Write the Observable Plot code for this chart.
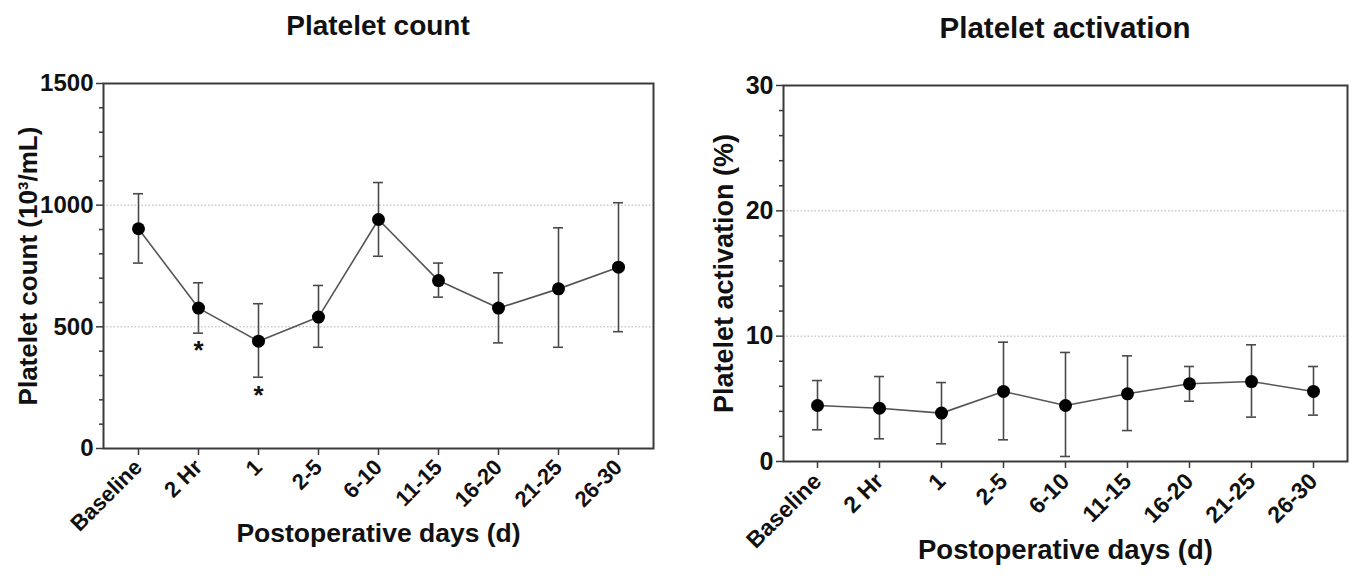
<!DOCTYPE html>
<html><head><meta charset="utf-8">
<script src="https://cdn.jsdelivr.net/npm/d3@7"></script>
<script src="https://cdn.jsdelivr.net/npm/@observablehq/plot@0.6"></script>
<style>
body{margin:0;background:#fff;font-family:"Liberation Sans",Arial,sans-serif;}
#wrap{display:flex;width:1355px;height:576px;overflow:hidden;}
.panel{position:relative;}
.title{font-weight:bold;text-align:center;height:60px;color:#111;box-sizing:border-box;}
</style></head><body><div id="wrap"><div class="panel" id="p1"></div><div class="panel" id="p2"></div></div>
<script>
// Categories (x axis)
const categories = ["Baseline", "2 Hr", "1", "2-5", "6-10", "11-15", "16-20", "21-25", "26-30"];

// Platelet count (10^3/mL): mean and error bar ends
const countMean  = [903, 577, 441, 540, 941, 690, 577, 656, 745];
const countUpper = [1047, 681, 595, 670, 1093, 762, 722, 907, 1010];
const countLower = [762, 474, 293, 416, 790, 622, 434, 416, 480];
const countSignificant = ["2 Hr", "1"];

// Platelet activation (%): mean and error bar ends
const actMean  = [4.47, 4.25, 3.86, 5.59, 4.47, 5.40, 6.20, 6.38, 5.59];
const actUpper = [6.46, 6.78, 6.30, 9.52, 8.70, 8.43, 7.58, 9.31, 7.58];
const actLower = [2.53, 1.81, 1.41, 1.73, 0.40, 2.47, 4.81, 3.54, 3.70];

// Tick values
const countTicks = [0, 500, 1000, 1500];
const countMinorTicks = [100, 200, 300, 400, 600, 700, 800, 900, 1100, 1200, 1300, 1400];
const countGrid = [500, 1000];
const actTicks = [0, 10, 20, 30];
const actMinorTicks = [2, 4, 6, 8, 12, 14, 16, 18, 22, 24, 26, 28];
const actGrid = [10, 20];

// Texts
const countTitle = "Platelet count";
const countYLabel = "Platelet count (10³/mL)";
const actTitle = "Platelet activation";
const actYLabel = "Platelet activation (%)";
const xLabel = "Postoperative days (d)";

function rows(mean, lo, hi) {
  return categories.map((c, i) => ({cat: c, mean: mean[i], lo: lo[i], hi: hi[i]}));
}

const FONT = "'Liberation Sans', Arial, sans-serif";
const AXIS = "#3a3a3a";
const BAR = "#4a4a4a";

function panel(el, o) {
  const title = document.createElement("div");
  title.className = "title";
  title.style.width = o.width + "px";
  title.style.paddingLeft = o.marginLeft + "px";
  title.style.paddingRight = o.marginRight + "px";
  title.style.lineHeight = o.titleLine + "px";
  title.style.fontSize = o.fs.title + "px";
  title.textContent = o.title;
  el.appendChild(title);
  const data = o.data;
  const sig = data.filter(d => o.sig.includes(d.cat));
  const chart = Plot.plot({
    width: o.width,
    height: 516,
    marginTop: o.marginTop,
    marginBottom: o.marginBottom,
    marginLeft: o.marginLeft,
    marginRight: o.marginRight,
    style: {fontFamily: FONT, background: "white", color: "#111", overflow: "visible"},
    x: {type: "band", domain: categories, paddingInner: o.pi, paddingOuter: o.po},
    y: {domain: o.yDomain},
    marks: [
      Plot.ruleY(o.grid, {stroke: "#b0b0b0", strokeWidth: 1, strokeDasharray: "1.5,2"}),
      Plot.axisY(o.minor, {tickSize: 4, tickFormat: () => "", stroke: AXIS, strokeWidth: 1.5, label: null}),
      Plot.axisY(o.ticks, {tickSize: 7, tickPadding: 3, tickFormat: d => String(d), fontSize: o.fs.ytick, fontWeight: "bold", fill: "#111", stroke: AXIS, strokeWidth: 1.5, label: null}),
      Plot.axisX({tickSize: 7, tickPadding: o.xTickPad, tickRotate: -45, fontSize: o.fs.xtick, fontWeight: "bold", fill: "#111", stroke: AXIS, strokeWidth: 1.5, label: null}),
      Plot.frame({stroke: AXIS, strokeWidth: 2}),
      Plot.ruleX(data, {x: "cat", y1: "lo", y2: "hi", stroke: BAR, strokeWidth: 1.6}),
      Plot.tickY(data, {x: "cat", y: "hi", stroke: BAR, strokeWidth: 1.6}),
      Plot.tickY(data, {x: "cat", y: "lo", stroke: BAR, strokeWidth: 1.6}),
      Plot.line(data, {x: "cat", y: "mean", stroke: "#555", strokeWidth: 1.6}),
      Plot.dot(data, {x: "cat", y: "mean", r: 6.5, fill: "#000", stroke: null}),
      Plot.text(sig, {x: "cat", y: "lo", text: () => "*", dy: 18, fontSize: 26, fontWeight: "bold", fill: "#111"}),
      Plot.text([o.yLabel], {frameAnchor: "left", textAnchor: "middle", rotate: -90, dx: -o.yLabelOffset, fontSize: o.fs.ylabel, fontWeight: "bold", fill: "#111"}),
      Plot.text([xLabel], {frameAnchor: "bottom", textAnchor: "middle", dy: o.xLabelOffset, fontSize: o.fs.xlabel, fontWeight: "bold", fill: "#111"})
    ]
  });
  el.appendChild(chart);
}

panel(document.getElementById("p1"), {
  title: countTitle, yLabel: countYLabel, titleLine: 52,
  data: rows(countMean, countLower, countUpper), sig: countSignificant,
  width: 690, marginTop: 23, marginBottom: 128, marginLeft: 103, marginRight: 37,
  pi: 0.835, po: 0.444, yDomain: [0, 1500],
  ticks: countTicks, minor: countMinorTicks, grid: countGrid,
  yLabelOffset: 75, xLabelOffset: 93, xTickPad: 8,
  fs: {title: 28, ytick: 24, xtick: 22, ylabel: 26, xlabel: 26.5}
});
panel(document.getElementById("p2"), {
  title: actTitle, yLabel: actYLabel, titleLine: 56,
  data: rows(actMean, actLower, actUpper), sig: [],
  width: 665, marginTop: 25, marginBottom: 115, marginLeft: 93, marginRight: 8,
  pi: 0.841, po: 0.397, yDomain: [0, 30],
  ticks: actTicks, minor: actMinorTicks, grid: actGrid,
  yLabelOffset: 59, xLabelOffset: 97, xTickPad: 9,
  fs: {title: 29.5, ytick: 25, xtick: 23, ylabel: 27, xlabel: 27.5}
});
</script></body></html>
